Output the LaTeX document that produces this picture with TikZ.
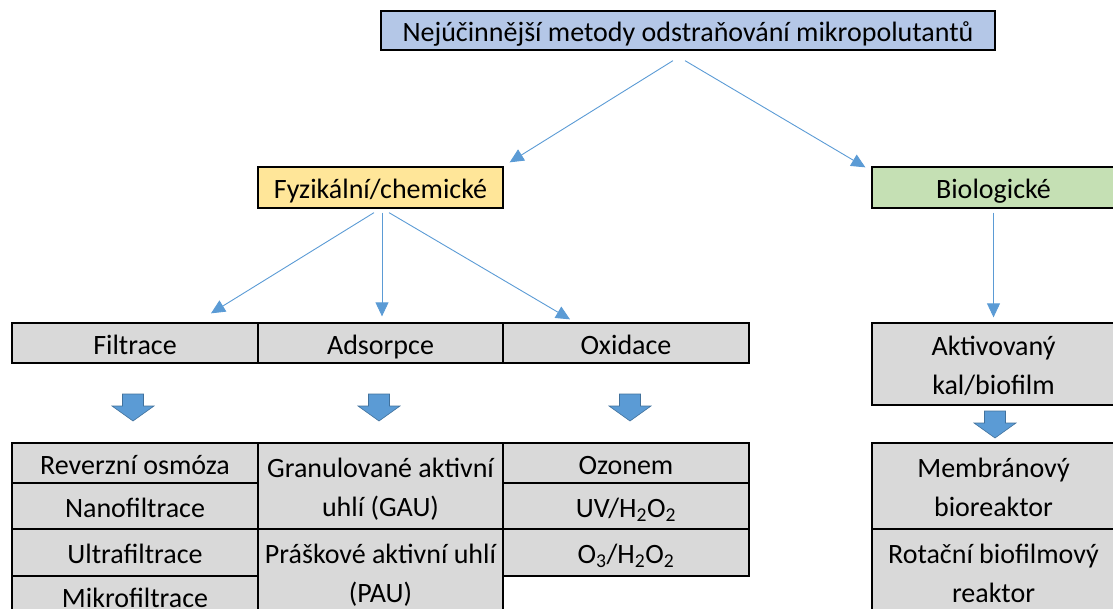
\documentclass[tikz,border=0pt]{standalone}
\usepackage{fontspec}
\setmainfont{Carlito}
\usetikzlibrary{arrows.meta,calc}
\definecolor{topblue}{HTML}{B4C7E7}
\definecolor{ylw}{HTML}{FFE699}
\definecolor{grn}{HTML}{C5E0B4}
\definecolor{gry}{HTML}{D9D9D9}
\definecolor{arr}{HTML}{5B9BD5}
\definecolor{arrdark}{HTML}{41719C}
\tikzset{
  box/.style={draw=black, line width=1.3pt, fill=gry, rectangle, inner sep=0pt, align=center,
    font=\fontsize{28}{39}\selectfont, text height=24pt, text depth=2pt},
  twoline/.style={text height=63pt, text depth=2pt},
  conn/.style={draw=arr, line width=0.9pt, -{Triangle[length=14pt,width=13pt]}},
  blockdown/.pic={\filldraw[fill=arr, draw=arrdark, line width=0.6pt]
     (-10.5,0) -- (10.5,0) -- (10.5,12) -- (21,12) -- (0,27) -- (-21,12) -- (-10.5,12) -- cycle;}
}
\begin{document}
\begin{tikzpicture}[x=1pt,y=-1pt]
\useasboundingbox (0,0) rectangle (1113,609);
\clip (0,0) rectangle (1113,609);
% level 0
\node[box, fill=topblue, minimum width=614pt, minimum height=39pt] (top) at (688,30.5) {Nejúčinnější metody odstraňování mikropolutantů};
% level 1
\node[box, fill=ylw, minimum width=245pt, minimum height=41pt] (fyz) at (380.5,187.5) {Fyzikální/chemické};
\node[box, fill=grn, minimum width=243pt, minimum height=41pt] (bio) at (993.5,187.5) {Biologické};
% level 2
\node[box, minimum width=246pt, minimum height=40pt] (filt) at (135,343) {Filtrace};
\node[box, minimum width=245pt, minimum height=40pt] (ads) at (380.5,343) {Adsorpce};
\node[box, minimum width=246pt, minimum height=40pt] (oxi) at (626,343) {Oxidace};
\node[box, twoline, minimum width=243pt, minimum height=82pt] (akt) at (993.5,364) {Aktivovaný\\kal/biofilm};
% level 3 - filtrace
\node[box, minimum width=246pt, minimum height=40pt] (ro) at (135,463) {Reverzní osmóza};
\node[box, minimum width=246pt, minimum height=46pt] (nano) at (135,506) {Nanofiltrace};
\node[box, minimum width=246pt, minimum height=47pt] (ultra) at (135,552.5) {Ultrafiltrace};
\node[box, minimum width=246pt, minimum height=40pt] (mikro) at (135,596) {Mikrofiltrace};
% adsorpce
\node[box, twoline, minimum width=245pt, minimum height=86pt] (gau) at (380.5,486) {Granulované aktivní\\uhlí (GAU)};
\node[box, twoline, minimum width=245pt, minimum height=86pt] (pau) at (380.5,572) {Práškové aktivní uhlí\\(PAU)};
% oxidace
\node[box, minimum width=246pt, minimum height=40pt] (ozon) at (626,463) {Ozonem};
\node[box, minimum width=246pt, minimum height=46pt] (uv) at (626,506) {UV/H\textsubscript{2}O\textsubscript{2}};
\node[box, minimum width=246pt, minimum height=47pt] (othree) at (626,552.5) {O\textsubscript{3}/H\textsubscript{2}O\textsubscript{2}};
% biologicke
\node[box, twoline, minimum width=243pt, minimum height=86pt] (mem) at (993.5,486) {Membránový\\bioreaktor};
\node[box, twoline, minimum width=243pt, minimum height=86pt] (rot) at (993.5,572) {Rotační biofilmový\\reaktor};
% thin connectors
\draw[conn] ($(top.south)+(-15,10)$) -- ($(fyz.north east)+(6,-4)$);
\draw[conn] ($(top.south)+(-3,10)$) -- ($(bio.north west)+(-6,1)$);
\draw[conn] ($(fyz.south)+(-6.5,4)$) -- ($(filt.north)+(76,-9)$);
\draw[conn] ($(fyz.south)+(1.5,4)$) -- ($(ads.north)+(1.5,-6)$);
\draw[conn] ($(fyz.south)+(8.5,4)$) -- ($(oxi.north)+(-56,-3)$);
\draw[conn] ($(bio.south)+(0,4)$) -- ($(akt.north)+(0,-5)$);
% block arrows
\pic at (133,394) {blockdown};
\pic at (379,394) {blockdown};
\pic at (630,394) {blockdown};
\pic at (995,411) {blockdown};
\end{tikzpicture}
\end{document}
